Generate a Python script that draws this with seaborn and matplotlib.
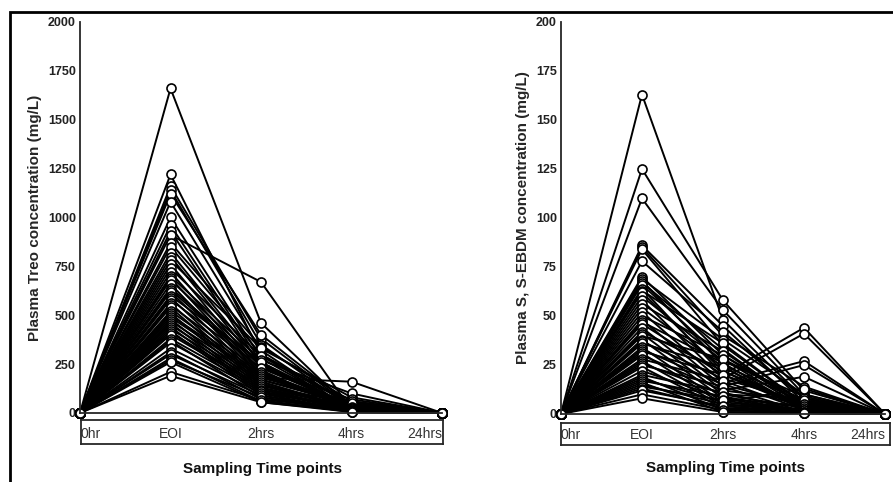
import pandas as pd
import seaborn as sns
import matplotlib.pyplot as plt
from matplotlib.patches import Rectangle
from matplotlib.transforms import ScaledTranslation

time_points = ["0hr", "EOI", "2hrs", "4hrs", "24hrs"]
baseline = 0  # 0hr and 24hrs samples read as zero

# Plasma Treo (mg/L) per patient
treo_eoi = [1660, 1220, 1160, 1140, 1120, 1080, 1000, 960, 930, 910, 870, 850, 820, 800,
            780, 760, 740, 720, 700, 690, 680, 660, 640, 630, 620, 600, 590, 580, 560, 550,
            540, 520, 510, 500, 490, 480, 470, 460, 450, 440, 430, 420, 410, 400, 380, 370,
            360, 330, 310, 300, 280, 270, 260, 210, 190]
treo_2h = [460, 300, 380, 350, 400, 320, 280, 260, 240, 670, 340, 300, 250, 230,
           330, 210, 290, 200, 270, 190, 250, 180, 240, 220, 170, 260, 160, 230, 150, 210,
           140, 200, 130, 190, 180, 120, 170, 110, 160, 100, 150, 90, 140, 130, 120, 80,
           110, 100, 70, 90, 60, 80, 55, 65, 55]
treo_4h = [20, 10, 30, 25, 40, 15, 20, 10, 30, 15, 60, 50, 20, 35,
           80, 15, 45, 25, 100, 30, 20, 160, 40, 10, 55, 30, 20, 70, 15, 35,
           25, 45, 10, 30, 60, 20, 40, 15, 25, 35, 20, 10, 50, 30, 20, 15,
           25, 10, 20, 15, 10, 5, 10, 5, 5]

# Plasma S,S-EBDM (mg/L) per patient
ebdm_eoi = [163, 125, 110, 86, 85, 84, 78, 70, 69, 68, 67, 66, 64, 63, 62, 60, 58, 56,
            54, 52, 50, 48, 47, 46, 44, 42, 41, 40, 38, 37, 36, 34, 33, 32, 31, 30, 28,
            27, 26, 25, 24, 22, 20, 19, 18, 17, 16, 15, 14, 13, 12, 10, 8]
ebdm_2h = [48, 58, 53, 45, 40, 35, 42, 30, 38, 25, 33, 28, 20, 36, 22, 27, 18, 32,
           24, 16, 30, 14, 26, 20, 12, 22, 10, 28, 8, 18, 24, 6, 15, 20, 5, 12, 17,
           4, 10, 14, 3, 8, 11, 2, 6, 9, 1, 5, 7, 3, 4, 2, 1]
ebdm_4h = [8, 12, 10, 6, 14, 5, 8, 4, 10, 6, 3, 7, 44, 5, 2, 9, 41, 4,
           3, 27, 6, 25, 2, 5, 19, 4, 8, 3, 1, 6, 2, 13, 4, 3, 1, 7, 2,
           5, 3, 1, 2, 4, 1, 3, 2, 1, 0.5, 2, 1, 0.5, 1, 0.5, 0.5]


def long_frame(eoi, h2, h4):
    rows = []
    for i, (a, b, c) in enumerate(zip(eoi, h2, h4)):
        for t, v in zip(range(5), [baseline, a, b, c, baseline]):
            rows.append({"subject": i, "time": t, "conc": v})
    return pd.DataFrame(rows)


def draw_panel(ax, box, df, ymax, ystep, ylabel):
    sns.lineplot(data=df, x="time", y="conc", units="subject", estimator=None,
                 sort=False, color="black", lw=1.4, marker="o", markersize=6.5,
                 markerfacecolor="white", markeredgecolor="black", markeredgewidth=1.2,
                 clip_on=False, ax=ax)
    ax.set_xlim(0, 4)
    ax.set_ylim(0, ymax)
    ax.set_yticks(range(0, ymax + 1, ystep))
    ax.set_yticklabels([str(v) for v in range(0, ymax + 1, ystep)],
                       fontweight="bold", fontsize=9, color="#222222")
    ax.tick_params(axis="y", length=2, width=1, pad=1)
    ax.set_xticks(range(5))
    ax.set_xticklabels(time_points, fontsize=10, color="#333333")
    labels = ax.get_xticklabels()
    labels[0].set_ha("left")
    labels[0].set_transform(labels[0].get_transform() +
                            ScaledTranslation(4 / 100, 0, fig.dpi_scale_trans))
    labels[-1].set_ha("right")
    ax.tick_params(axis="x", length=7, width=1, pad=3, direction="out")
    for s in ["top", "right"]:
        ax.spines[s].set_visible(False)
    for s in ["left", "bottom"]:
        ax.spines[s].set_linewidth(1.3)
    ax.set_xlabel("")
    ax.set_ylabel(ylabel, fontsize=11, fontweight="bold", labelpad=4)
    box.set_xticks([])
    box.set_yticks([])
    for s in box.spines.values():
        s.set_linewidth(1.3)
    box.patch.set_alpha(0)
    box.text(0.5, -1.05, "Sampling Time points", transform=box.transAxes,
             ha="center", va="center", fontsize=11, fontweight="bold", color="#111111")


sns.set_style("white")
plt.rcParams["font.family"] = ["Liberation Sans", "DejaVu Sans"]

fig = plt.figure(figsize=(8.93, 4.82), dpi=100)
ax1 = fig.add_axes([0.0896, 0.1432, 0.4054, 0.8112])
box1 = fig.add_axes([0.0907, 0.0788, 0.4054, 0.0498])
ax2 = fig.add_axes([0.6282, 0.1411, 0.3628, 0.8133])
box2 = fig.add_axes([0.6282, 0.0768, 0.3684, 0.0456])

draw_panel(ax1, box1, long_frame(treo_eoi, treo_2h, treo_4h), 2000, 250,
           "Plasma Treo concentration (mg/L)")
draw_panel(ax2, box2, long_frame(ebdm_eoi, ebdm_2h, ebdm_4h), 200, 25,
           "Plasma S, S-EBDM concentration (mg/L)")

fig.patches.append(Rectangle((10 / 893, -0.1), 1.0, 1.0 - 12 / 482 + 0.1,
                             transform=fig.transFigure, fill=False, lw=2,
                             edgecolor="black"))

fig.savefig("out.png", dpi=100)
